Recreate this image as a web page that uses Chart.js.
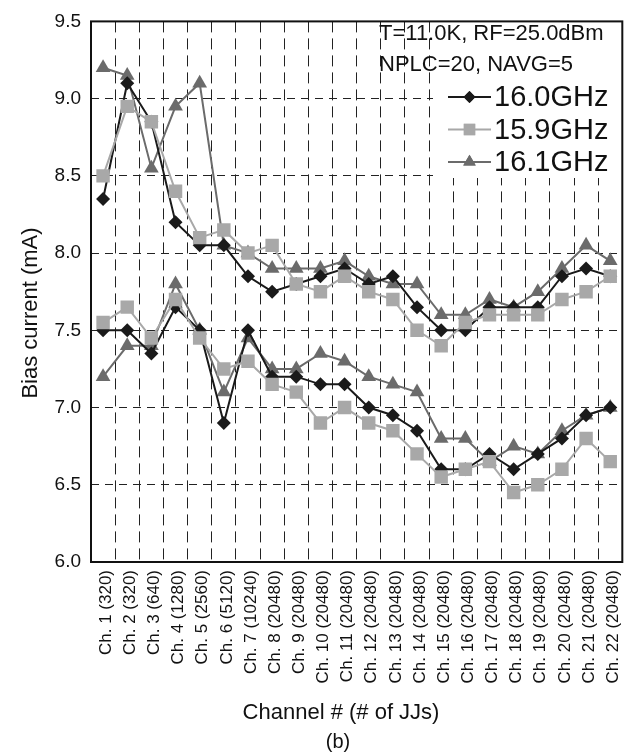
<!DOCTYPE html>
<html>
<head>
<meta charset="utf-8">
<style>
  html, body { margin: 0; padding: 0; background: #fff; }
  #wrap { width: 639px; height: 756px; }
</style>
<script src="https://cdn.jsdelivr.net/npm/chart.js@4.4.1/dist/chart.umd.min.js"></script>
</head>
<body>
<div id="wrap"><canvas id="chart" width="639" height="756"></canvas></div>
<script>
// channel categories (# of JJs per channel)
const jjCounts = [320, 320, 640, 1280, 2560, 5120, 10240, 20480, 20480, 20480, 20480,
                  20480, 20480, 20480, 20480, 20480, 20480, 20480, 20480, 20480, 20480, 20480];
const channelLabels = jjCounts.map((n, i) => 'Ch. ' + (i + 1) + ' (' + n + ')');

// bias current (mA), upper and lower curve per frequency
const upper160 = [8.35, 9.1, 8.85, 8.2, 8.05, 8.05, 7.85, 7.75, 7.8, 7.85, 7.9, 7.8, 7.85, 7.65, 7.5, 7.5, 7.65, 7.65, 7.65, 7.85, 7.9, 7.85];
const lower160 = [7.5, 7.5, 7.35, 7.65, 7.5, 6.9, 7.5, 7.2, 7.2, 7.15, 7.15, 7.0, 6.95, 6.85, 6.6, 6.6, 6.7, 6.6, 6.7, 6.8, 6.95, 7.0];
const upper159 = [8.5, 8.95, 8.85, 8.4, 8.1, 8.15, 8.0, 8.05, 7.8, 7.75, 7.85, 7.75, 7.7, 7.5, 7.4, 7.55, 7.6, 7.6, 7.6, 7.7, 7.75, 7.85];
const lower159 = [7.55, 7.65, 7.45, 7.7, 7.45, 7.25, 7.3, 7.15, 7.1, 6.9, 7.0, 6.9, 6.85, 6.7, 6.55, 6.6, 6.65, 6.45, 6.5, 6.6, 6.8, 6.65];
const upper161 = [9.2, 9.15, 8.55, 8.95, 9.1, 8.05, 8.0, 7.9, 7.9, 7.9, 7.95, 7.85, 7.8, 7.8, 7.6, 7.6, 7.7, 7.65, 7.75, 7.9, 8.05, 7.95];
const lower161 = [7.2, 7.4, 7.4, 7.8, 7.5, 7.1, 7.45, 7.25, 7.25, 7.35, 7.3, 7.2, 7.15, 7.1, 6.8, 6.8, 6.65, 6.75, 6.7, 6.85, 6.95, 7.0];

const yMin = 6.0, yMax = 9.5, yStep = 0.5;
const annotLines = ['T=11.0K, RF=25.0dBm', 'NPLC=20, NAVG=5'];

const FONT = '"Liberation Sans", Arial, sans-serif';

// first dataset ends up on top in Chart.js, so squares go first
const series = [
    { name: '15.9GHz', color: '#a8a8a8', style: 'rect', radius: 9.5, up: upper159, low: lower159 },
    { name: '16.0GHz', color: '#1a1a1a', style: 'rectRot', radius: 7, up: upper160, low: lower160 },
    { name: '16.1GHz', color: '#6b6b6b', style: 'triangle', radius: 8.5, up: upper161, low: lower161 }
];
const legendOrder = ['16.0GHz', '15.9GHz', '16.1GHz'];

function makeSet(s, data, inLegend) {
    return {
        label: s.name,
        data: data,
        inLegend: inLegend,
        borderColor: s.color,
        backgroundColor: s.color,
        pointBackgroundColor: s.color,
        pointBorderColor: s.color,
        pointBorderWidth: 0,
        pointStyle: s.style,
        pointRadius: s.radius,
        borderWidth: 2,
        tension: 0
    };
}

const datasets = [];
series.forEach(s => {
    datasets.push(makeSet(s, s.up, true));
    datasets.push(makeSet(s, s.low, false));
});

// legend box, annotation text, frame and titles
const legendBox = { x1: 433, y1: 20, x2: 617, y2: 178 };
const figureDecor = {
    id: 'figureDecor',
    beforeDatasetsDraw(chart) {
        const ctx = chart.ctx;
        ctx.save();
        ctx.fillStyle = '#fff';
        ctx.fillRect(legendBox.x1, legendBox.y1, legendBox.x2 - legendBox.x1, legendBox.y2 - legendBox.y1);
        ctx.restore();
    },
    afterDraw(chart) {
        const ctx = chart.ctx;
        const a = chart.chartArea;
        ctx.save();

        // plot frame
        ctx.strokeStyle = '#111';
        ctx.lineWidth = 2;
        ctx.strokeRect(a.left, a.top, a.right - a.left, a.bottom - a.top);

        // run conditions
        ctx.fillStyle = '#111';
        ctx.font = '22px ' + FONT;
        ctx.textAlign = 'left';
        ctx.textBaseline = 'middle';
        ctx.fillText(annotLines[0], 379, 34);
        ctx.fillText(annotLines[1], 379, 65);

        // legend
        legendOrder.forEach((name, i) => {
            const ds = chart.data.datasets.find(d => d.label === name && d.inLegend);
            const y = 97 + i * 32.5;
            ctx.strokeStyle = ds.borderColor;
            ctx.lineWidth = 2;
            ctx.beginPath();
            ctx.moveTo(448, y);
            ctx.lineTo(491, y);
            ctx.stroke();
            ctx.fillStyle = ds.pointBackgroundColor;
            Chart.helpers.drawPoint(ctx, {
                pointStyle: ds.pointStyle,
                radius: ds.pointRadius * 0.85,
                borderWidth: 0,
                rotation: 0
            }, 469.5, y);
            ctx.fill();
            ctx.fillStyle = '#111';
            ctx.font = '29px ' + FONT;
            ctx.fillText(name, 494, y + 1);
        });

        // axis titles
        ctx.font = '22px ' + FONT;
        ctx.textAlign = 'center';
        ctx.fillText('Channel # (# of JJs)', 341, 713);
        ctx.font = '20px ' + FONT;
        ctx.fillText('(b)', 338, 742);
        ctx.translate(31, 313);
        ctx.rotate(-Math.PI / 2);
        ctx.font = '22px ' + FONT;
        ctx.fillText('Bias current (mA)', 0, 0);
        ctx.restore();
    }
};

new Chart(document.getElementById('chart'), {
    type: 'line',
    data: { labels: channelLabels, datasets: datasets },
    plugins: [figureDecor],
    options: {
        responsive: false,
        devicePixelRatio: 1,
        animation: false,
        layout: { padding: { top: 14, right: 16, left: 0, bottom: 0 } },
        plugins: {
            legend: { display: false },
            tooltip: { enabled: false }
        },
        scales: {
            x: {
                type: 'category',
                offset: true,
                grid: { offset: true, color: '#222', lineWidth: 1, drawTicks: false },
                border: { display: false, dash: [11, 6] },
                ticks: {
                    autoSkip: false,
                    minRotation: 90,
                    maxRotation: 90,
                    padding: 8,
                    labelOffset: 3,
                    color: '#111',
                    font: { family: FONT, size: 17 }
                },
                afterFit(scale) { scale.height = 194; }
            },
            y: {
                min: yMin,
                max: yMax,
                grid: { color: '#222', lineWidth: 1, drawTicks: false },
                border: { display: false, dash: [8, 6] },
                ticks: {
                    stepSize: yStep,
                    padding: 10,
                    color: '#111',
                    font: { family: FONT, size: 19 },
                    callback: v => Number(v).toFixed(1)
                },
                afterFit(scale) { scale.width = 91; }
            }
        }
    }
});
</script>
</body>
</html>
